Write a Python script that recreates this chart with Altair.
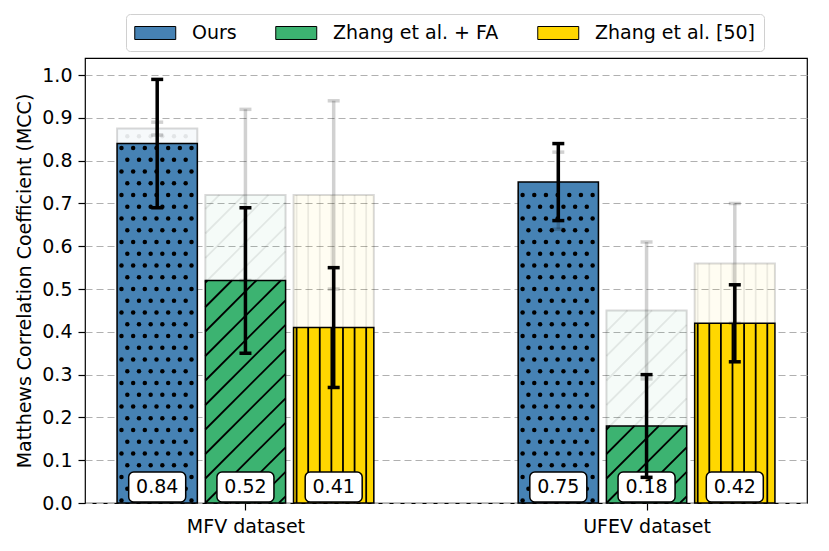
import json
import altair as alt
import pandas as pd

# ---------------- data ----------------
datasets = ["MFV dataset", "UFEV dataset"]
methods = ["Ours", "Zhang et al. + FA", "Zhang et al. [50]"]
colors = ["#4682b4", "#3cb371", "#ffd700"]

mcc_mfv = [0.84, 0.52, 0.41]
mcc_ufev = [0.75, 0.18, 0.42]
err_mfv = [0.15, 0.17, 0.14]
err_ufev = [0.09, 0.12, 0.09]

# faded backdrop bars (drawn behind the main bars)
back_mfv = [0.875, 0.72, 0.72]
back_ufev = [0.73, 0.45, 0.56]
back_err_mfv = [0.015, 0.20, 0.22]
back_err_ufev = [0.09, 0.16, 0.14]

y_ticks = [0.0, 0.1, 0.2, 0.3, 0.4, 0.5, 0.6, 0.7, 0.8, 0.9, 1.0]

rows = []
series = [
    (mcc_mfv, err_mfv, back_mfv, back_err_mfv),
    (mcc_ufev, err_ufev, back_ufev, back_err_ufev),
]
for g, ds in enumerate(datasets):
    mv, ev, bv, bev = series[g]
    for m, meth in enumerate(methods):
        rows.append(dict(g=g, m=m, dataset=ds, method=meth,
                         mean=mv[m], err=ev[m], bmean=bv[m], berr=bev[m]))
df = pd.DataFrame(rows)

# ---------------- layout ----------------
W, H = 722, 445
XMIN, XMAX = -0.4, 1.4
YMAX = 1.04
PXX = W / (XMAX - XMIN)
PXY = H / YMAX
STEP = 0.22
BW = 0.2
BW_PX = BW * PXX
FONT = "DejaVu Sans"

xscale = alt.Scale(domain=[XMIN, XMAX], nice=False, zero=False)
yscale = alt.Scale(domain=[0, YMAX], nice=False)
xaxis = alt.Axis(values=[0, 1], labelExpr=f"{json.dumps(datasets)}[datum.value]",
                 title=None, grid=False, tickSize=7, labelPadding=7)
yaxis = alt.Axis(values=y_ticks, format=".1f", title="Matthews Correlation Coefficient (MCC)",
                 grid=True, gridDash=[7, 4], gridColor="#b0b0b0", gridWidth=1.2,
                 tickSize=7, labelPadding=6, titlePadding=7)


def xq(f):
    return alt.X(f"{f}:Q", scale=xscale, axis=xaxis)


def yq(f):
    return alt.Y(f"{f}:Q", scale=yscale, axis=yaxis)


# swatch 41 x 13 px, drawn from the entry's left edge
legend = alt.Legend(
    title=None, orient="none", legendX=41, legendY=-44, direction="horizontal",
    columns=3, symbolType="M-1,-0.634H3V0.634H-1Z", symbolSize=420,
    symbolStrokeColor="black", symbolStrokeWidth=1, symbolOpacity=1,
    labelFont=FONT, labelFontSize=19, labelColor="black", labelOffset=36,
    labelLimit=400, columnPadding=36, padding=8, strokeColor="#d0d0d0",
    fillColor="white", cornerRadius=4,
)
fill_enc = alt.Fill("method:N", scale=alt.Scale(domain=methods, range=colors), legend=legend)

base = (
    alt.Chart(df)
    .transform_calculate(xc=f"datum.g + (datum.m - 1) * {STEP}")
    .transform_calculate(x0=f"datum.xc - {BW / 2}")
    .transform_calculate(x1=f"datum.xc + {BW / 2}")
    .transform_calculate(zero="0")
)


def bars(top, **mk):
    return base.mark_rect(**mk).encode(
        x=xq("x0"), x2="x1", y=yq(top), y2="zero", fill=fill_enc)


DOT_X0, DOT_DX, DOT_Y0, DOT_DY = 4.4, 11.67, 2.5, 11.75
DIAG = 24.5
V_X0, V_DX = 3.0, 11.6


def dots(top, op):
    return (
        base.transform_filter("datum.m == 0")
        .transform_calculate(top=f"datum.{top}")
        .transform_calculate(rows=f"sequence(0, floor((datum.top * {PXY} - {DOT_Y0}) / {DOT_DY}) + 1)")
        .transform_flatten(["rows"], as_=["r"])
        .transform_calculate(cols="sequence(0, 8)")
        .transform_flatten(["cols"], as_=["c"])
        .transform_calculate(px=f"{DOT_X0} + (datum.r % 2) * {DOT_DX / 2} + datum.c * {DOT_DX}")
        .transform_calculate(dxp=f"datum.x0 + datum.px / {PXX}")
        .transform_calculate(dyp=f"({DOT_Y0} + datum.r * {DOT_DY}) / {PXY}")
        .transform_filter(f"datum.px <= {BW_PX - 1.5} && datum.dyp <= datum.top - {1.5 / PXY}")
        .mark_circle(size=20, color="black", opacity=op)
        .encode(x=xq("dxp"), y=yq("dyp"))
    )


def diags(top, op):
    return (
        base.transform_filter("datum.m == 1")
        .transform_calculate(top=f"datum.{top}")
        .transform_calculate(hp=f"datum.top * {PXY}")
        .transform_calculate(ks=f"sequence({-int(BW_PX // DIAG) - 1}, ceil(datum.hp / {DIAG}) + 1)")
        .transform_flatten(["ks"], as_=["k"])
        .transform_calculate(cc=f"datum.k * {DIAG}")
        .transform_calculate(u0="max(0, -datum.cc)")
        .transform_calculate(u1=f"min({BW_PX}, datum.hp - datum.cc)")
        .transform_filter("datum.u1 - datum.u0 > 0.5")
        .transform_calculate(lx0=f"datum.x0 + datum.u0 / {PXX}")
        .transform_calculate(lx1=f"datum.x0 + datum.u1 / {PXX}")
        .transform_calculate(ly0=f"(datum.u0 + datum.cc) / {PXY}")
        .transform_calculate(ly1=f"(datum.u1 + datum.cc) / {PXY}")
        .mark_rule(strokeWidth=1.8, color="black", opacity=op)
        .encode(x=xq("lx0"), x2="lx1", y=yq("ly0"), y2="ly1")
    )


def vlines(top, op):
    return (
        base.transform_filter("datum.m == 2")
        .transform_calculate(top=f"datum.{top}")
        .transform_calculate(ks="sequence(0, 8)")
        .transform_flatten(["ks"], as_=["k"])
        .transform_calculate(px=f"{V_X0} + datum.k * {V_DX}")
        .transform_filter(f"datum.px < {BW_PX - 1}")
        .transform_calculate(vx=f"datum.x0 + datum.px / {PXX}")
        .mark_rule(strokeWidth=1.8, color="black", opacity=op)
        .encode(x=xq("vx"), y=yq("zero"), y2="top")
    )


def errbars(mean, err, op):
    b = (base.transform_calculate(lo=f"datum.{mean} - datum.{err}")
         .transform_calculate(hi=f"datum.{mean} + datum.{err}")
         .transform_calculate(cl=f"datum.xc - {6 / PXX}")
         .transform_calculate(cr=f"datum.xc + {6 / PXX}"))
    stem = b.mark_rule(strokeWidth=3.5, color="black", opacity=op).encode(
        x=xq("xc"), y=yq("lo"), y2="hi")
    cap_hi = b.mark_rule(strokeWidth=3.5, color="black", opacity=op).encode(
        x=xq("cl"), x2="cr", y=yq("hi"))
    cap_lo = b.mark_rule(strokeWidth=3.5, color="black", opacity=op).encode(
        x=xq("cl"), x2="cr", y=yq("lo"))
    return [stem, cap_hi, cap_lo]


lab = (base.transform_calculate(bl=f"datum.xc - {28.5 / PXX}")
       .transform_calculate(br=f"datum.xc + {28.5 / PXX}")
       .transform_calculate(by0=f"{1.0 / PXY}")
       .transform_calculate(by1=f"{31.0 / PXY}")
       .transform_calculate(ty=f"{16.0 / PXY}")
       .transform_calculate(txt="format(datum.mean, '.2f')"))
label_box = lab.mark_rect(fill="white", stroke="black", strokeWidth=1.5, cornerRadius=5).encode(
    x=xq("bl"), x2="br", y=yq("by0"), y2="by1")
label_txt = lab.mark_text(font=FONT, fontSize=19, color="black", align="center", baseline="middle").encode(
    x=xq("xc"), y=yq("ty"), text="txt:N")

layers = [
    bars("bmean", fillOpacity=0.05, stroke="black", strokeOpacity=0.15, strokeWidth=2),
    dots("bmean", 0.08), diags("bmean", 0.08), vlines("bmean", 0.08),
    bars("mean", fillOpacity=1, stroke="black", strokeWidth=1.5),
    dots("mean", 1), diags("mean", 1), vlines("mean", 1),
    label_box, label_txt,
] + errbars("bmean", "berr", 0.18) + errbars("mean", "err", 1)

chart = (
    alt.layer(*layers)
    .properties(width=W, height=H, autosize="none",
                padding={"left": 77, "top": 50, "right": 14, "bottom": 40})
    .configure_view(stroke="black", strokeWidth=1.2)
    .configure_axis(labelFont=FONT, titleFont=FONT, labelFontSize=19, titleFontSize=19,
                    labelColor="black", titleColor="black", titleFontWeight="normal",
                    tickColor="black", tickWidth=1.2, domain=False)
)

chart.save("out.html", embed_options={"renderer": "svg", "actions": False})
